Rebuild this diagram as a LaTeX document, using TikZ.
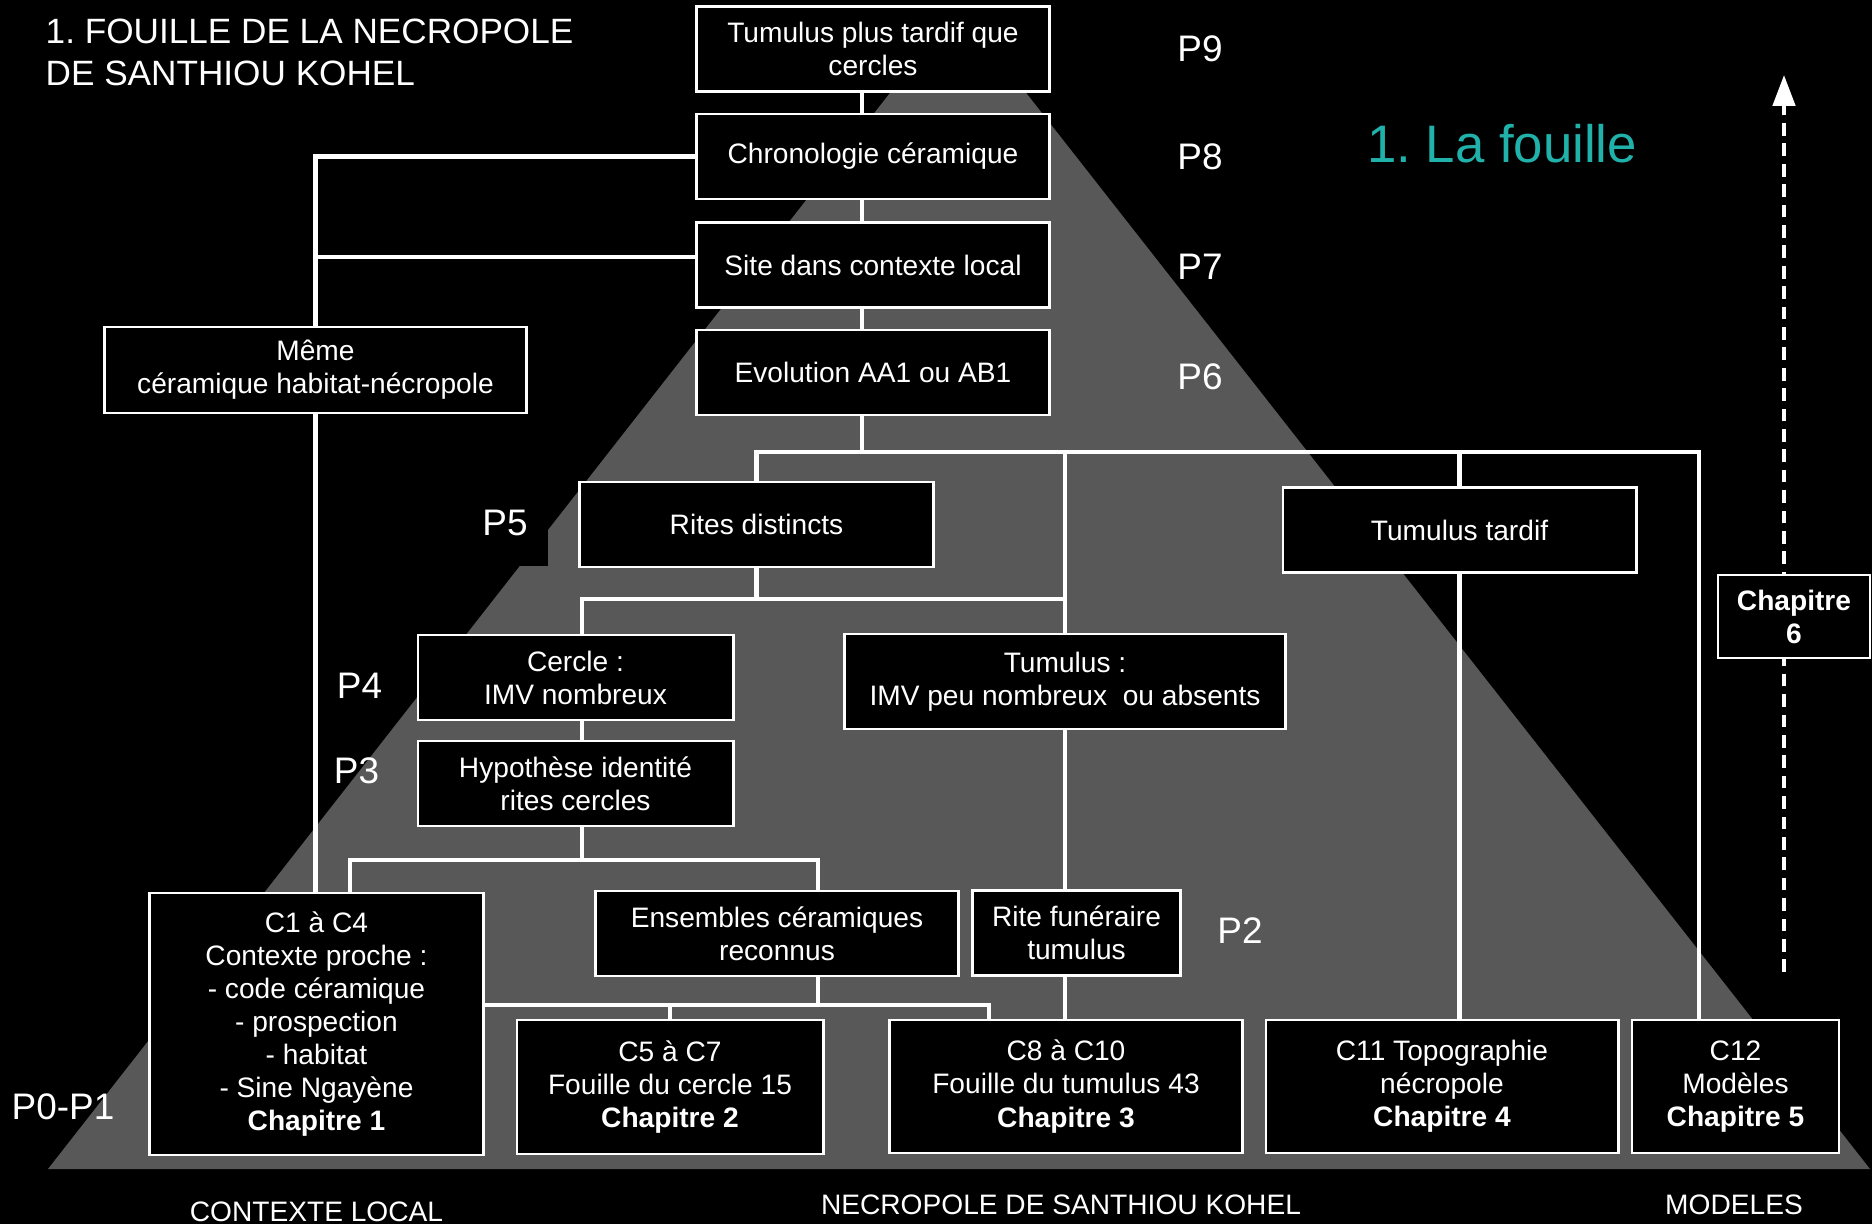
\documentclass[tikz,border=0pt]{standalone}
\usepackage{fontspec}
\setmainfont{Liberation Sans}
\usepackage{tikz}
\usetikzlibrary{arrows.meta,positioning}
\definecolor{pyrgray}{RGB}{88,88,88}
\definecolor{fouilleteal}{RGB}{32,178,170}
\frenchspacing

\begin{document}
\begin{tikzpicture}[x=0.01cm, y=-0.01cm,
        box/.style={draw=white, line width=0.8pt, fill=black, text=white, align=center,
            inner sep=0pt, font=\fontsize{8}{9.4}\selectfont},
        plabel/.style={text=white, inner sep=0pt, font=\fontsize{10.5}{12}\selectfont},
        zone/.style={text=white, inner sep=0pt, font=\fontsize{8}{9.4}\selectfont},
        link/.style={draw=white, line width=1.2pt}]
            \useasboundingbox (0,0) rectangle (1872,1224);
            \fill[black] (0,0) rectangle (1872,1224);

            % Pyramid
            \fill[pyrgray] (48,1169) -- (958,6) -- (1870,1169) -- cycle;

            % Title
            \node[anchor=north west, align=left, text=white, inner sep=0pt,
                font=\fontsize{10}{12}\selectfont] (title) at (45,18)
                {1. FOUILLE DE LA NECROPOLE\\DE SANTHIOU KOHEL};
            \node[text=fouilleteal, inner sep=0pt, font=\fontsize{15}{18}\selectfont] (fouille) at (1502,144) {1. La fouille};

            % Central column
            \node[box, minimum width=3.52cm, minimum height=0.85cm] (top) at (873,49) {Tumulus plus tardif que\\cercles};
            \node[box, minimum width=3.52cm, minimum height=0.85cm] (chrono) at (873,156.5) {Chronologie céramique};
            \node[box, minimum width=3.52cm, minimum height=0.85cm] (site) at (873,265) {Site dans contexte local};
            \node[box, minimum width=3.52cm, minimum height=0.85cm] (evo) at (873,372.5) {Evolution AA1 ou AB1};

            % Context side
            \node[box, minimum width=4.21cm, minimum height=0.86cm] (meme) at (315.5,370) {Même\\céramique habitat-nécropole};

            % Rites
            \node[box, minimum width=3.53cm, minimum height=0.85cm] (rites) at (756.5,524.5) {Rites distincts};
            \node[box, minimum width=3.53cm, minimum height=0.85cm] (tardif) at (1459.5,530) {Tumulus tardif};
            \node[box, minimum width=3.15cm, minimum height=0.85cm] (cercle) at (575.5,677.5) {Cercle :\\IMV nombreux};
            \node[box, minimum width=4.40cm, minimum height=0.95cm] (tumulus) at (1065,681.5) {Tumulus :\\IMV peu nombreux\ \ ou absents};
            \node[box, minimum width=3.15cm, minimum height=0.85cm] (hypo) at (575.5,783.5) {Hypothèse identité\\rites cercles};
            \node[box, minimum width=3.62cm, minimum height=0.85cm] (ens) at (777,933.5) {Ensembles céramiques\\reconnus};
            \node[box, minimum width=2.08cm, minimum height=0.85cm] (rite) at (1076.5,933) {Rite funéraire\\tumulus};

            % Chapters
            \node[box, minimum width=3.33cm, minimum height=2.62cm] (ctxt) at (316.5,1024)
                {C1 à C4\\Contexte proche :\\- code céramique\\- prospection\\- habitat\\- Sine Ngayène\\\textbf{Chapitre 1}};
            \node[box, minimum width=3.06cm, minimum height=1.34cm] (cercleq) at (670,1087) {C5 à C7\\Fouille du cercle 15\\\textbf{Chapitre 2}};
            \node[box, minimum width=3.52cm, minimum height=1.33cm] (tumq) at (1066,1086.5) {C8 à C10\\Fouille du tumulus 43\\\textbf{Chapitre 3}};
            \node[box, minimum width=3.52cm, minimum height=1.33cm] (topo) at (1442,1086.5) {C11 Topographie\\nécropole\\\textbf{Chapitre 4}};
            \node[box, minimum width=2.07cm, minimum height=1.33cm] (model) at (1735.5,1086.5) {C12\\Modèles\\\textbf{Chapitre 5}};

            % Dashed arrow with chapter 6
            \coordinate (dashbase) at (1784,972);
            \coordinate (dashtip) at (1784,75);
            \draw[white, line width=1.2pt, dash pattern=on 3.6pt off 2.2pt,
                -{Triangle[length=8.8pt, width=6.3pt]}] (dashbase) -- (dashtip);
            \node[box, font=\fontsize{8}{9.4}\selectfont\bfseries, minimum width=1.52cm, minimum height=0.83cm] (chap6) at (1794,616.5) {Chapitre\\6};

            % Levels
            \node[plabel] (p9) at (1200,48.5) {P9};
            \node[plabel] (p8) at (1200,157) {P8};
            \node[plabel] (p7) at (1200,267) {P7};
            \node[plabel] (p6) at (1200,377) {P6};
            \node[plabel, fill=black, minimum width=0.86cm, minimum height=0.86cm] (p5) at (505,523) {P5};
            \node[plabel] (p4) at (359.5,685.5) {P4};
            \node[plabel] (p3) at (356.5,770.5) {P3};
            \node[plabel] (p2) at (1240,930.5) {P2};
            \node[plabel] (p0) at (63,1107) {P0-P1};

            % Zones
            \node[zone] (zlocal) at (316.5,1212) {CONTEXTE LOCAL};
            \node[zone] (znecro) at (1061,1205) {NECROPOLE DE SANTHIOU KOHEL};
            \node[zone] (zmodel) at (1734,1205) {MODELES};

            % Links, central column
            \coordinate (spine) at (862,452);
            \coordinate (barR) at (1699,452);
            \draw[link] (top.south -| spine) -- (chrono.north -| spine);
            \draw[link] (chrono.south -| spine) -- (site.north -| spine);
            \draw[link] (site.south -| spine) -- (evo.north -| spine);
            \draw[link] (evo.south -| spine) -- (spine);
            \draw[link] (rites.north) |- (barR) -- (model.north -| barR);
            \draw[link] (tumulus.north) -- (tumulus.north |- spine);
            \draw[link] (tardif.north) -- (tardif.north |- spine);
            \draw[link] (tardif.south) -- (topo.north -| tardif.south);

            % Links, context side
            \coordinate (mlink) at (316,257);
            \draw[link] (chrono.west) -| (meme.north);
            \draw[link] (site.west |- mlink) -- (mlink);
            \draw[link] (meme.south) -- (ctxt.north -| meme.south);

            % Links, rites
            \coordinate (rbar) at (582,599);
            \draw[link] (rites.south) -- (rites.south |- rbar);
            \draw[link] (cercle.north -| rbar) -- (rbar) -- (tumulus.north |- rbar);
            \draw[link] (cercle.south -| rbar) -- (hypo.north -| rbar);
            \coordinate (hbar) at (350,860);
            \coordinate (hbarR) at (818,860);
            \draw[link] (hypo.south -| rbar) -- (rbar |- hbar);
            \draw[link] (ctxt.north -| hbar) -- (hbar) -- (hbarR) -- (ens.north -| hbarR);
            \coordinate (ebar) at (818,1005);
            \coordinate (ebarR) at (989,1005);
            \draw[link] (ens.south -| ebar) -- (ebar);
            \draw[link] (ctxt.east |- ebar) -- (ebarR) -- (tumq.north -| ebarR);
            \draw[link] (cercleq.north) -- (cercleq.north |- ebar);
            \draw[link] (tumulus.south) -- (rite.north -| tumulus.south);
            \draw[link] (rite.south -| tumulus.south) -- (tumq.north -| tumulus.south);
        \end{tikzpicture}
\end{document}
